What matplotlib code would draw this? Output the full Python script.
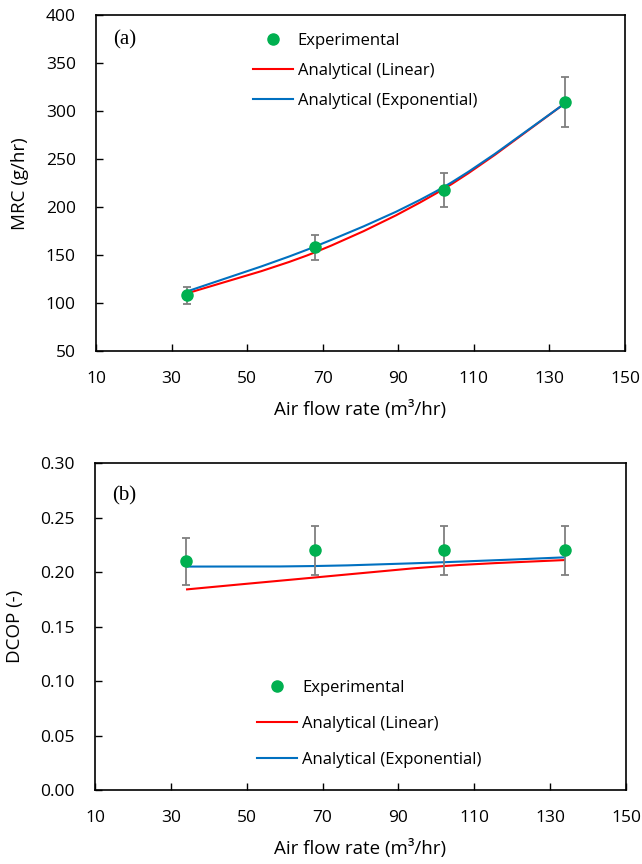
import numpy as np
import matplotlib
matplotlib.use("Agg")
import matplotlib.pyplot as plt
from matplotlib.path import Path
from matplotlib.patches import PathPatch

plt.rcParams['font.family'] = ['Open Sans', 'DejaVu Sans']

# ---- data ----
air_flow = [34, 68, 102, 134]
mrc_exp = [108, 158, 218, 310]
mrc_err = [9, 13, 18, 26]
mrc_linear = [110, 153, 219, 308]
mrc_expo = [112, 159, 221, 308]

dcop_exp = [0.21, 0.22, 0.22, 0.22]
dcop_err = [0.0215, 0.0225, 0.0225, 0.0225]
dcop_linear = [0.184, 0.195, 0.2055, 0.211]
dcop_expo = [0.205, 0.2055, 0.209, 0.2135]

xticks = [10, 30, 50, 70, 90, 110, 130, 150]
legend_labels = ['Experimental', 'Analytical (Linear)', 'Analytical (Exponential)']

GREEN = '#00B050'
RED = '#FF0000'
BLUE = '#0070C0'
GRAY = '#7F7F7F'


def smooth_line(ax, x, y, color, lw=1.5):
    # Excel-like smoothed line: cubic Bezier with Catmull-Rom tangents
    x = np.asarray(x, float); y = np.asarray(y, float)
    n = len(x)
    verts = [(x[0], y[0])]
    codes = [Path.MOVETO]
    for i in range(n - 1):
        p0 = (x[i - 1], y[i - 1]) if i > 0 else (x[i], y[i])
        p1 = (x[i], y[i]); p2 = (x[i + 1], y[i + 1])
        p3 = (x[i + 2], y[i + 2]) if i + 2 < n else p2
        c1 = (p1[0] + (p2[0] - p0[0]) / 6, p1[1] + (p2[1] - p0[1]) / 6)
        c2 = (p2[0] - (p3[0] - p1[0]) / 6, p2[1] - (p3[1] - p1[1]) / 6)
        verts += [c1, c2, p2]
        codes += [Path.CURVE4] * 3
    patch = PathPatch(Path(verts, codes), facecolor='none', edgecolor=color, lw=lw)
    ax.add_patch(patch)
    return patch


fig = plt.figure(figsize=(6.42, 8.64), dpi=100)
ax1 = fig.add_axes([0.1495, 0.5938, 0.824, 0.3883])
ax2 = fig.add_axes([0.148, 0.0856, 0.827, 0.3785])

TICK_FS = 12.5
LABEL_FS = 13.5
LEG_FS = 12

for ax in (ax1, ax2):
    for s in ax.spines.values():
        s.set_linewidth(1.2)
        s.set_color('black')
    ax.set_xlim(10, 150)
    ax.set_xticks(xticks)
    ax.tick_params(direction='in', length=5, width=1, labelsize=TICK_FS, pad=14.5,
                   top=False, right=False)
    ax.set_xlabel('Air flow rate (m³/hr)', fontsize=LABEL_FS, labelpad=9)

# panel (a)
ax1.set_ylim(50, 400)
ax1.set_yticks(range(50, 401, 50))
smooth_line(ax1, air_flow, mrc_linear, RED)
smooth_line(ax1, air_flow, mrc_expo, BLUE)
ax1.errorbar(air_flow, mrc_exp, yerr=mrc_err, fmt='none', ecolor=GRAY, elinewidth=1.3,
             capsize=3.2, capthick=1.3, zorder=3)
ax1.plot(air_flow, mrc_exp, 'o', color=GREEN, ms=8, zorder=4)
ax1.set_ylabel('MRC (g/hr)', fontsize=LABEL_FS, labelpad=12)
ax1.text(0.032, 0.927, '(a)', transform=ax1.transAxes, fontsize=15,
         family='Liberation Serif', va='center', ha='left')

h_exp, = ax1.plot([], [], 'o', color=GREEN, ms=8)
h_lin, = ax1.plot([], [], '-', color=RED, lw=1.5)
h_expo, = ax1.plot([], [], '-', color=BLUE, lw=1.5)
ax1.legend([h_exp, h_lin, h_expo], legend_labels,
           loc='upper left', bbox_to_anchor=(0.268, 0.993), frameon=False,
           fontsize=LEG_FS, handlelength=2.4, handletextpad=0.3, labelspacing=0.85)

# panel (b)
dcop_ticks = np.arange(0, 0.301, 0.05)
ax2.set_ylim(0, 0.30)
ax2.set_yticks(dcop_ticks)
ax2.set_yticklabels([f'{v:.2f}' for v in dcop_ticks])
smooth_line(ax2, air_flow, dcop_linear, RED)
smooth_line(ax2, air_flow, dcop_expo, BLUE)
ax2.errorbar(air_flow, dcop_exp, yerr=dcop_err, fmt='none', ecolor=GRAY, elinewidth=1.3,
             capsize=3.2, capthick=1.3, zorder=3)
ax2.plot(air_flow, dcop_exp, 'o', color=GREEN, ms=8, zorder=4)
ax2.set_ylabel('DCOP (-)', fontsize=LABEL_FS, labelpad=12)
ax2.text(0.032, 0.90, '(b)', transform=ax2.transAxes, fontsize=15,
         family='Liberation Serif', va='center', ha='left')

h_exp2, = ax2.plot([], [], 'o', color=GREEN, ms=8)
h_lin2, = ax2.plot([], [], '-', color=RED, lw=1.5)
h_expo2, = ax2.plot([], [], '-', color=BLUE, lw=1.5)
ax2.legend([h_exp2, h_lin2, h_expo2], legend_labels,
           loc='upper left', bbox_to_anchor=(0.277, 0.382), frameon=False,
           fontsize=LEG_FS, handlelength=2.4, handletextpad=0.3, labelspacing=1.2)

fig.savefig('out.png', dpi=100)
